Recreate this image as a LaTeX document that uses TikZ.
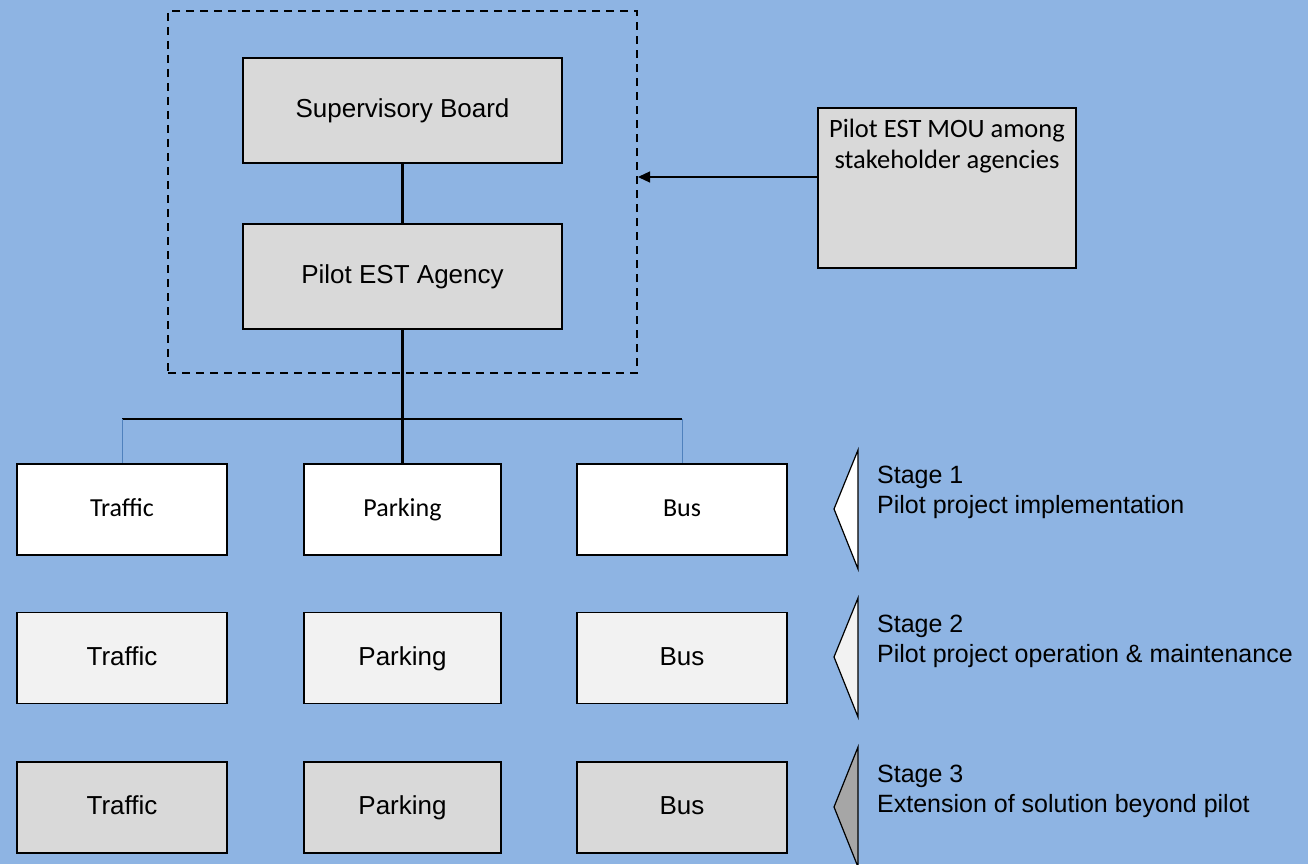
\documentclass[tikz,border=0pt]{standalone}
\usepackage{fontspec}
\setmainfont{Liberation Sans}
\newfontfamily\calfont{Carlito}
\usetikzlibrary{arrows.meta}

\definecolor{bgblue}{RGB}{142,180,227}
\definecolor{boxgray}{RGB}{217,217,217}
\definecolor{palegray}{RGB}{242,242,242}
\definecolor{midgray}{RGB}{166,166,166}
\definecolor{stubblue}{RGB}{79,129,189}

\tikzset{
  board/.style={draw, line width=2.5pt, fill=boxgray, minimum width=319pt,
    minimum height=105pt, font=\fontsize{26}{30}\selectfont},
  unitbox/.style={draw, line width=1.5pt, minimum height=91pt, inner sep=0pt,
    text height=19pt, text depth=5pt},
  stagetri/.style={draw, line width=1.2pt, line join=miter},
  stagetext/.style={anchor=north west, align=left, inner sep=0pt,
    font=\fontsize{25}{30}\selectfont}
}

\begin{document}
\begin{tikzpicture}[x=1pt,y=-1pt]
  \useasboundingbox (0,0) rectangle (1308,864);
  \fill[bgblue] (0,0) rectangle (1308,864);

  % top of the structure
  \node[draw, dashed, line width=2pt, dash pattern=on 8pt off 6pt,
    minimum width=469pt, minimum height=362pt] (frame) at (402.5,192) {};
  \node[board] (board) at (402.5,110.5) {Supervisory Board};
  \node[board] (agency) at (402.5,276.5) {Pilot EST Agency};
  \draw[line width=2.5pt] (board) -- (agency);

  \node[draw, line width=2pt, fill=boxgray, minimum width=258pt, minimum height=160pt,
    label={[anchor=north, align=center, yshift=-9pt,
      font=\calfont\fontsize{26.5}{31}\selectfont]north:Pilot EST MOU among\\stakeholder agencies}]
    (mou) at (947,188) {};
  \draw[line width=1.3pt, -{Triangle[length=12pt,width=11pt]}]
    ([yshift=11pt]mou.west) -- ([yshift=11pt]mou.west -| frame.east);

  % stage 1
  \node[unitbox, fill=white, minimum width=210pt, font=\calfont\fontsize{26}{30}\selectfont]
    (traffic1) at (122,509.5) {Traffic};
  \node[unitbox, fill=white, minimum width=197pt, font=\calfont\fontsize{26}{30}\selectfont]
    (parking1) at (402.5,509.5) {Parking};
  \node[unitbox, fill=white, minimum width=210pt, font=\calfont\fontsize{26}{30}\selectfont]
    (bus1) at (682,509.5) {Bus};

  \coordinate (hub) at (402.5,419);
  \draw[line width=2.5pt] (agency) -- (parking1);
  \draw[line width=2pt] (traffic1.north |- hub) -- (bus1.north |- hub);
  \draw[stubblue, line width=1pt] (traffic1.north |- hub) -- (traffic1.north);
  \draw[stubblue, line width=1pt] (bus1.north |- hub) -- (bus1.north);

  % stage 2
  \node[unitbox, fill=palegray, minimum width=210pt, font=\fontsize{26}{30}\selectfont]
    (traffic2) at (122,658) {Traffic};
  \node[unitbox, fill=palegray, minimum width=197pt, font=\fontsize{26}{30}\selectfont]
    (parking2) at (402.5,658) {Parking};
  \node[unitbox, fill=palegray, minimum width=210pt, font=\fontsize{26}{30}\selectfont]
    (bus2) at (682,658) {Bus};

  % stage 3
  \node[unitbox, fill=boxgray, minimum width=210pt, font=\fontsize{26}{30}\selectfont]
    (traffic3) at (122,807.5) {Traffic};
  \node[unitbox, fill=boxgray, minimum width=197pt, font=\fontsize{26}{30}\selectfont]
    (parking3) at (402.5,807.5) {Parking};
  \node[unitbox, fill=boxgray, minimum width=210pt, font=\fontsize{26}{30}\selectfont]
    (bus3) at (682,807.5) {Bus};

  % stage markers
  \filldraw[stagetri, fill=white] (834,509) -- (858,450) -- (858,569) -- cycle;
  \filldraw[stagetri, fill=palegray] (834,657) -- (858,598) -- (858,717) -- cycle;
  \filldraw[stagetri, fill=midgray] (834,807) -- (858,747) -- (858,867) -- cycle;

  \node[stagetext] (stage1) at (877,466) {Stage 1\\Pilot project implementation};
  \node[stagetext] (stage2) at (877,615) {Stage 2\\Pilot project operation \& maintenance};
  \node[stagetext] (stage3) at (877,765) {Stage 3\\Extension of solution beyond pilot};
\end{tikzpicture}
\end{document}
